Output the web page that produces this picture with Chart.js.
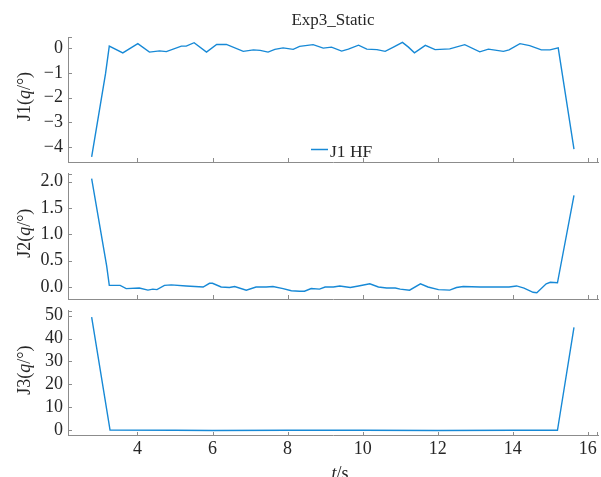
<!DOCTYPE html>
<html>
<head>
<meta charset="utf-8">
<script src="https://cdn.jsdelivr.net/npm/chart.js@4.4.1/dist/chart.umd.min.js"></script>
<style>
  html, body { margin: 0; padding: 0; background: #fff; }
  #wrap { position: relative; width: 601px; height: 477px; overflow: hidden; }
  #wrap canvas { position: absolute; left: 0; top: 0; }
</style>
</head>
<body>
<div id="wrap">
  <canvas id="c1" width="601" height="477"></canvas>
  <canvas id="c2" width="601" height="477"></canvas>
  <canvas id="c3" width="601" height="477"></canvas>
</div>
<script>
// shared time axis
const xMin = 2.15, xMax = 16.27;
const xTicks = [4, 6, 8, 10, 12, 14, 16];

// J1 (deg)
const t1 = [2.78, 3.15, 3.25, 3.61, 4.01, 4.32, 4.59, 4.77, 5.17, 5.3, 5.51, 5.84, 6.11, 6.37, 6.82,
  7.09, 7.27, 7.48, 7.66, 7.88, 8.15, 8.32, 8.68, 8.95, 9.17, 9.44, 9.62, 9.89, 10.11, 10.38,
  10.6, 10.82, 11.06, 11.22, 11.38, 11.67, 11.93, 12.32, 12.72, 13.12, 13.35, 13.75, 13.9, 14.19, 14.45,
  14.76, 14.99, 15.21, 15.63];
const j1 = [-4.39, -1.03, 0.08, -0.19, 0.18, -0.16, -0.11, -0.14, 0.08, 0.08, 0.22, -0.16, 0.15, 0.15, -0.13,
  -0.07, -0.09, -0.16, -0.05, 0.01, -0.05, 0.07, 0.14, 0.0, 0.04, -0.12, -0.04, 0.12, -0.04, -0.06,
  -0.13, 0.04, 0.23, 0.04, -0.19, 0.11, -0.06, -0.03, 0.14, -0.15, -0.04, -0.13, -0.07, 0.18, 0.1,
  -0.07, -0.07, 0.01, -4.08];
const y1Ticks = [-4, -3, -2, -1, 0];

// J2 (deg)
const t2 = [2.78, 3.18, 3.25, 3.54, 3.7, 4.05, 4.28, 4.41, 4.52, 4.72, 4.9, 5.3, 5.75, 5.92, 6.0,
  6.23, 6.45, 6.59, 6.9, 7.16, 7.43, 7.61, 7.88, 8.1, 8.32, 8.45, 8.63, 8.85, 9.0, 9.22,
  9.39, 9.67, 9.89, 10.19, 10.42, 10.64, 10.87, 11.0, 11.25, 11.54, 11.74, 12.02, 12.32, 12.5, 12.68,
  13.13, 13.66, 13.9, 14.1, 14.3, 14.54, 14.64, 14.89, 15.0, 15.19, 15.63];
const j2 = [2.06, 0.40, 0.03, 0.03, -0.03, -0.02, -0.06, -0.04, -0.05, 0.03, 0.04, 0.02, 0.0, 0.07, 0.07,
  0.0, -0.01, 0.01, -0.06, 0.0, 0.0, 0.01, -0.03, -0.07, -0.08, -0.08, -0.03, -0.04, 0.0, 0.0,
  0.02, -0.01, 0.02, 0.06, 0.0, -0.02, -0.02, -0.04, -0.06, 0.06, 0.0, -0.05, -0.06, -0.01, 0.01,
  0.0, 0.0, 0.0, 0.02, -0.02, -0.1, -0.11, 0.06, 0.09, 0.08, 1.74];
const y2Ticks = [0, 0.5, 1, 1.5, 2];

// J3 (deg)
const t3 = [2.78, 3.19, 3.27, 5.0, 6.0, 8.0, 10.0, 12.0, 14.0, 15.19, 15.63];
const j3 = [49.4, 8.0, 0.0, -0.1, -0.2, -0.1, -0.1, -0.2, -0.1, -0.1, 44.9];
const y3Ticks = [0, 10, 20, 30, 40, 50];

const blue = '#1789d6';
const axisColor = '#8c8c8c';
const textColor = '#262626';
const serif = "'Liberation Serif', 'Times New Roman', serif";
const H = 477;

function drawParts(ctx, parts, size, x, y, rot, align) {
  ctx.save();
  ctx.translate(x, y);
  ctx.rotate(rot);
  let w = 0;
  parts.forEach(p => {
    ctx.font = (p.i ? 'italic ' : '') + size + 'px ' + serif;
    p.w = ctx.measureText(p.t).width;
    w += p.w;
  });
  let cx = align === 'left' ? 0 : -w / 2;
  ctx.fillStyle = textColor;
  ctx.textBaseline = 'alphabetic';
  ctx.textAlign = 'left';
  parts.forEach(p => {
    ctx.font = (p.i ? 'italic ' : '') + size + 'px ' + serif;
    ctx.fillText(p.t, cx, 0);
    cx += p.w;
  });
  ctx.restore();
}

// inward tick marks, y label, legend, x label
const panelPlugin = {
  id: 'panel',
  afterDraw(chart, args, opts) {
    const ctx = chart.ctx;
    const a = chart.chartArea;
    const xs = chart.scales.x, ys = chart.scales.y;
    ctx.save();
    ctx.strokeStyle = axisColor;
    ctx.lineWidth = 1;
    ctx.beginPath();
    xs.ticks.forEach(tk => {
      const px = Math.round(xs.getPixelForValue(tk.value)) + 0.5;
      ctx.moveTo(px, Math.round(a.bottom)); ctx.lineTo(px, Math.round(a.bottom) - 4);
    });
    const rx = Math.round(a.right) - 0.5;
    ctx.moveTo(rx, Math.round(a.bottom)); ctx.lineTo(rx, Math.round(a.bottom) - 4);
    ys.ticks.forEach(tk => {
      const py = Math.round(ys.getPixelForValue(tk.value)) + 0.5;
      ctx.moveTo(Math.round(a.left), py); ctx.lineTo(Math.round(a.left) + 4, py);
    });
    const ty = Math.round(a.top) + 0.5;
    ctx.moveTo(Math.round(a.left), ty); ctx.lineTo(Math.round(a.left) + 4, ty);
    ctx.stroke();
    ctx.restore();

    drawParts(ctx, opts.yTitle, 18, 30, (a.top + a.bottom) / 2 - 3, -Math.PI / 2);

    if (opts.legend) {
      const ds = chart.data.datasets[0];
      ctx.save();
      ctx.strokeStyle = ds.borderColor;
      ctx.lineWidth = 1.5;
      ctx.beginPath();
      ctx.moveTo(311, 149.5); ctx.lineTo(328, 149.5);
      ctx.stroke();
      ctx.restore();
      drawParts(ctx, [{ t: ds.label }], 17.5, 330, 156.5, 0, 'left');
    }
    if (opts.xTitle) {
      drawParts(ctx, opts.xTitle, 18, 340, 479, 0);
    }
  }
};

function makePanel(id, tArr, vArr, yMin, yMax, yTicks, fmt, top, bottom, extra) {
  const xH = extra.bottomAxis ? H - bottom : 0;
  const titleH = extra.title ? 37 : 0;
  return new Chart(document.getElementById(id), {
    type: 'line',
    data: {
      datasets: [{
        label: 'J1 HF',
        data: tArr.map((t, i) => ({ x: t, y: vArr[i] })),
        borderColor: blue,
        borderWidth: 1.4,
        pointRadius: 0,
        fill: false,
        tension: 0
      }]
    },
    plugins: [panelPlugin],
    options: {
      responsive: false,
      animation: false,
      devicePixelRatio: 1,
      events: [],
      layout: { padding: { left: 0, right: 3, top: top - titleH, bottom: H - bottom - xH } },
      plugins: {
        legend: { display: false },
        tooltip: { enabled: false },
        title: {
          display: !!extra.title,
          text: extra.title || '',
          fullSize: false,
          color: textColor,
          font: { family: serif, size: 17, weight: 'normal' },
          padding: { top: 10, bottom: 6.6 }
        },
        panel: { yTitle: extra.yTitle, legend: !!extra.legend, xTitle: extra.xTitle }
      },
      scales: {
        x: {
          type: 'linear',
          min: xMin,
          max: xMax,
          afterBuildTicks: s => { s.ticks = xTicks.map(v => ({ value: v })); },
          afterFit: s => { s.height = xH; s.paddingLeft = 0; s.paddingRight = 0; },
          grid: { display: false, drawTicks: false },
          border: { display: true, color: axisColor, width: 1 },
          ticks: {
            display: !!extra.bottomAxis,
            padding: 3,
            color: textColor,
            maxRotation: 0,
            font: { family: serif, size: 18 },
            callback: v => String(v)
          }
        },
        y: {
          min: yMin,
          max: yMax,
          afterBuildTicks: s => { s.ticks = yTicks.map(v => ({ value: v })); },
          afterFit: s => { s.width = 68; s.paddingTop = 0; s.paddingBottom = 0; },
          grid: { display: false, drawTicks: false },
          border: { display: true, color: axisColor, width: 1 },
          ticks: {
            padding: 5,
            color: textColor,
            font: { family: serif, size: 18 },
            callback: v => fmt(v)
          }
        }
      }
    }
  });
}

const minus = s => s.replace('-', '\u2212');

makePanel('c1', t1, j1, -4.6, 0.45, y1Ticks, v => minus(String(v)), 37, 162, {
  title: 'Exp3_Static',
  legend: true,
  yTitle: [{ t: 'J1(' }, { t: 'q', i: true }, { t: '/\u00b0)' }]
});
makePanel('c2', t2, j2, -0.228, 2.156, y2Ticks, v => v.toFixed(1), 173.5, 299, {
  yTitle: [{ t: 'J2(' }, { t: 'q', i: true }, { t: '/\u00b0)' }]
});
makePanel('c3', t3, j3, -2.4, 52.2, y3Ticks, v => String(v), 310.7, 435.5, {
  bottomAxis: true,
  yTitle: [{ t: 'J3(' }, { t: 'q', i: true }, { t: '/\u00b0)' }],
  xTitle: [{ t: 't', i: true }, { t: '/s' }]
});
</script>
</body>
</html>
